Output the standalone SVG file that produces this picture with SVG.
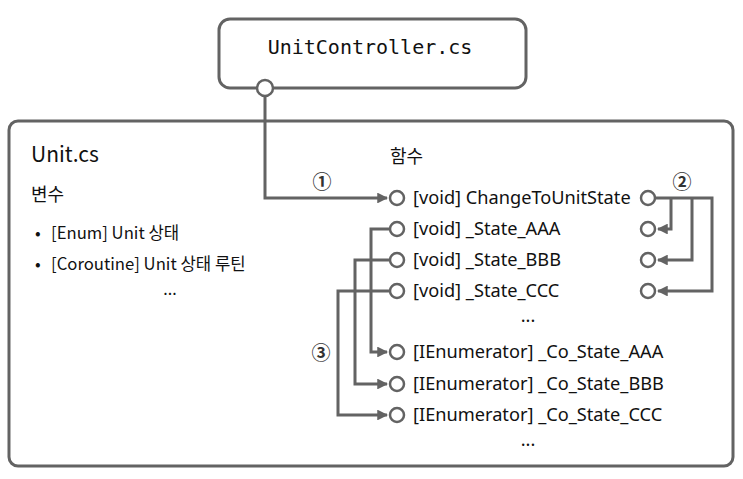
<svg xmlns="http://www.w3.org/2000/svg" width="743" height="479" viewBox="0 0 743 479">
<style>
.box{fill:#fff;stroke:#636363;stroke-width:3}
.ln{fill:none;stroke:#636363;stroke-width:3;stroke-linejoin:miter}
.pt{fill:#fff;stroke:#636363;stroke-width:2.5}
.t{font-family:"Noto Sans","Noto Sans CJK KR",sans-serif;font-size:18.2px;fill:#111}
.k{font-family:"Noto Sans CJK KR","Noto Sans",sans-serif;fill:#111}
.n{font-family:"Noto Sans CJK KR","Noto Sans",sans-serif;font-size:19px;font-weight:bold;fill:#333}
.mono{font-family:"DejaVu Sans Mono","Liberation Mono",monospace;font-size:20px;fill:#111}
</style>
<defs>
<marker id="ah" viewBox="0 0 10 10" refX="9" refY="5" markerWidth="3.6" markerHeight="3.6" orient="auto" markerUnits="strokeWidth">
<path d="M0,0 L10,5 L0,10 z" fill="#636363"/>
</marker>
</defs>
<g id="unit-cs">
<rect class="box" x="9" y="121" width="724" height="345" rx="9"/>
<text class="k" x="31" y="162" font-size="21">Unit.cs</text>
<text class="k" x="31" y="201" font-size="18">변수</text>
<text class="k" x="35" y="239" font-size="16.7">•</text>
<text class="k" x="51" y="239" font-size="16.7">[Enum] Unit 상태</text>
<text class="k" x="35" y="270" font-size="16.7">•</text>
<text class="k" x="51" y="270" font-size="16.7">[Coroutine] Unit 상태 루틴</text>
<text class="k" x="170" y="295" font-size="16" text-anchor="middle">...</text>
<text class="k" x="390" y="163" font-size="18">함수</text>
</g>
<g id="unitcontroller">
<rect class="box" x="219" y="19" width="307" height="69" rx="11"/>
<text class="mono" x="370" y="54" text-anchor="middle">UnitController.cs</text>
</g>
<g id="connectors">
<path class="ln" d="M265,96 V198 H387" marker-end="url(#ah)"/>
<path class="ln" d="M656,198 H712 V291 H658" marker-end="url(#ah)"/>
<path class="ln" d="M671,198 V229 H658" marker-end="url(#ah)"/>
<path class="ln" d="M692,198 V260 H658" marker-end="url(#ah)"/>
<path class="ln" d="M389,229 H371 V352 H387" marker-end="url(#ah)"/>
<path class="ln" d="M389,260 H355 V384 H387" marker-end="url(#ah)"/>
<path class="ln" d="M389,291 H338 V415 H387" marker-end="url(#ah)"/>
<text class="n" x="322" y="189" text-anchor="middle">①</text>
<text class="n" x="682" y="189" text-anchor="middle">②</text>
<text class="n" x="321" y="360" text-anchor="middle">③</text>
</g>
<g id="funcs">
<circle class="pt" cx="265" cy="88" r="8"/>
<circle class="pt" cx="397" cy="198" r="7"/>
<circle class="pt" cx="397" cy="229" r="7"/>
<circle class="pt" cx="397" cy="260" r="7"/>
<circle class="pt" cx="397" cy="291" r="7"/>
<circle class="pt" cx="397" cy="352" r="7"/>
<circle class="pt" cx="397" cy="384" r="7"/>
<circle class="pt" cx="397" cy="415" r="7"/>
<circle class="pt" cx="648" cy="198" r="7"/>
<circle class="pt" cx="648" cy="229" r="7"/>
<circle class="pt" cx="648" cy="260" r="7"/>
<circle class="pt" cx="648" cy="291" r="7"/>
<text class="t" x="413" y="204">[void] ChangeToUnitState</text>
<text class="t" x="413" y="235">[void] _State_AAA</text>
<text class="t" x="413" y="266">[void] _State_BBB</text>
<text class="t" x="413" y="297">[void] _State_CCC</text>
<text class="t" x="528" y="322" text-anchor="middle">...</text>
<text class="t" x="413" y="358">[IEnumerator] _Co_State_AAA</text>
<text class="t" x="413" y="390">[IEnumerator] _Co_State_BBB</text>
<text class="t" x="413" y="421">[IEnumerator] _Co_State_CCC</text>
<text class="t" x="528" y="446" text-anchor="middle">...</text>
</g>
</svg>
